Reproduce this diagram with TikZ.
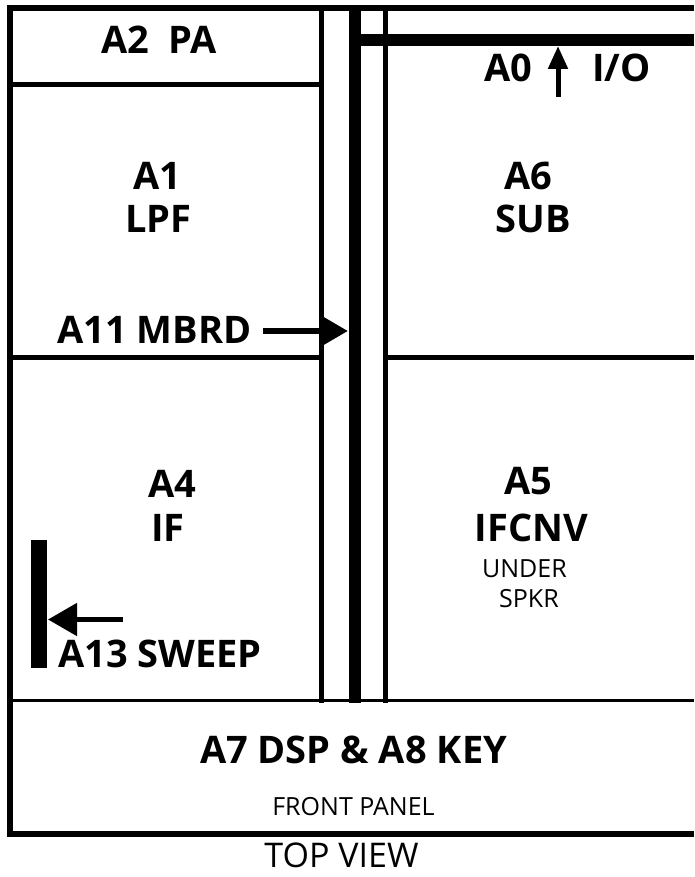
\documentclass[tikz,border=0pt]{standalone}
\usepackage{fontspec}
\setmainfont{Open Sans}
\usetikzlibrary{arrows.meta}
\begin{document}
\begin{tikzpicture}[x=1pt,y=-1pt,
  lbl/.style={font=\fontsize{38}{38}\selectfont\bfseries, anchor=base, inner sep=0pt},
  lightlbl/.style={font=\fontsize{25}{25}\selectfont, anchor=base, inner sep=0pt},
  border/.style={line width=6pt, line join=miter},
  wire/.style={line width=5pt},
  bus/.style={line width=12pt},
  ptr/.style={line width=#1}]
\useasboundingbox (0,0) rectangle (694,877);
% frame
\coordinate (tr) at (694,8);
\coordinate (tl) at (10,8);
\coordinate (bl) at (10,833.5);
\coordinate (br) at (694,833.5);
\draw[border] (tr) -- (tl) -- (bl) -- (br);
% vertical bus lines
\coordinate (v1t) at (321.5,8);   \coordinate (v1b) at (321.5,703);
\coordinate (v2t) at (355,8);     \coordinate (v2b) at (355,703);
\coordinate (v3t) at (385.5,8);   \coordinate (v3b) at (385.5,703);
\draw[wire] (v1t) -- (v1b);
\draw[bus] (v2t) -- (v2b);
\draw[wire] (v3t) -- (v3b);
% thick horizontal to the right
\coordinate (h0l) at (349,40); \coordinate (h0r) at (694,40);
\draw[bus] (h0l) -- (h0r);
% A2 divider
\coordinate (a2l) at (10,85); \coordinate (a2r) at (321.5,85);
\draw[wire] (a2l) -- (a2r);
% middle dividers
\coordinate (m1l) at (10,357.5); \coordinate (m1r) at (321.5,357.5);
\coordinate (m2l) at (385.5,357.5); \coordinate (m2r) at (694,357.5);
\draw[wire] (m1l) -- (m1r);
\draw[wire] (m2l) -- (m2r);
% front panel divider
\coordinate (fpl) at (10,700); \coordinate (fpr) at (694,700);
\draw[line width=3pt] (fpl) -- (fpr);
% labels
\node[lbl] (a2) at (159,54) {A2\ \ PA};
\node[lbl] (a1) at (157.5,190) {A1};
\node[lbl] (lpf) at (158.5,233) {LPF};
\node[lbl] (a6) at (528,190) {A6};
\node[lbl] (sub) at (533,233) {SUB};
\node[lbl] (a0) at (508.5,82) {A0};
\node[lbl] (io) at (621.5,82) {I/O};
\node[lbl, anchor=base west] (a11) at (57,343) {A11 MBRD};
\node[lbl] (a4) at (172,497) {A4};
\node[lbl] (if) at (168,541) {IF};
\node[lbl] (a5) at (528.5,494) {A5};
\node[lbl] (ifcnv) at (531.5,541) {IFCNV};
\node[lightlbl] (under) at (524.5,577) {UNDER};
\node[lightlbl] (spkr) at (529,607) {SPKR};
\node[lbl, anchor=base west] (a13) at (58,667) {A13 SWEEP};
\node[lbl] (a7) at (353.5,763) {A7 DSP \& A8 KEY};
\node[lightlbl] (fp) at (353.5,815) {FRONT PANEL};
\node[font=\fontsize{34}{34}\selectfont, anchor=base, inner sep=0pt] (tv) at (341.5,867) {TOP VIEW};
% arrows
\coordinate (mbt) at (263,331); \coordinate (mbh) at (348,331);
\draw[ptr=6pt, -{Triangle[length=25pt,width=27pt]}] (mbt) -- (mbh);
\coordinate (a0t) at (558,97); \coordinate (a0h) at (558,46);
\draw[ptr=5pt, -{Triangle[length=23pt,width=19pt]}] (a0t) -- (a0h);
\coordinate (swt) at (123,619.5); \coordinate (swh) at (48,619.5);
\draw[ptr=5pt, -{Triangle[length=29pt,width=32pt]}] (swt) -- (swh);
% sweep board bar
\coordinate (sb1) at (31,540); \coordinate (sb2) at (47,668);
\fill (sb1) rectangle (sb2);
\end{tikzpicture}
\end{document}
